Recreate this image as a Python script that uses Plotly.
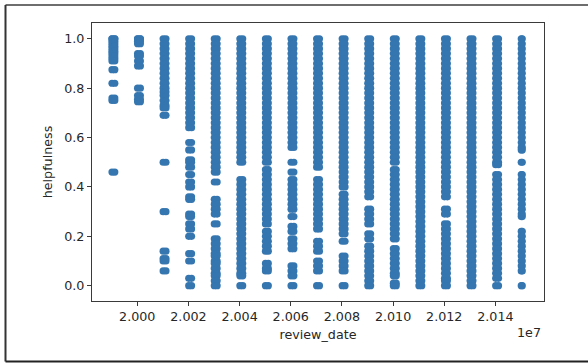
import plotly.graph_objects as go

# ---------------- data ----------------
years = [1999, 2000, 2001, 2002, 2003, 2004, 2005, 2006, 2007,
         2008, 2009, 2010, 2011, 2012, 2013, 2014, 2015]

# month-day parts of review_date used within each year
mmdd_full = [115, 1215]
mmdd_2015 = [110, 500]

h1999 = [1.0, 1.0, 0.99, 0.98, 0.97, 0.96, 0.95, 0.94, 0.93, 0.92, 0.91,
         0.875, 0.82, 0.76, 0.75, 0.46]
h2000 = [1.0, 1.0, 0.99, 0.98, 0.94, 0.93, 0.91, 0.89, 0.80, 0.77, 0.755, 0.745]
h2001 = [1.0, 0.98, 0.96, 0.94, 0.92, 0.90, 0.88, 0.86, 0.84, 0.82, 0.80, 0.785,
         0.77, 0.75, 0.73, 0.72, 0.69, 0.50, 0.30, 0.14, 0.11, 0.10, 0.06]
h2002 = [1.0, 0.98, 0.96, 0.94, 0.92, 0.90, 0.88, 0.86, 0.84, 0.82, 0.80, 0.78,
         0.76, 0.74, 0.72, 0.70, 0.68, 0.66, 0.64, 0.58, 0.55, 0.51, 0.50, 0.48,
         0.45, 0.42, 0.40, 0.36, 0.35, 0.29, 0.28, 0.25, 0.23, 0.20, 0.13, 0.10,
         0.03, 0.0]
h2003 = [1.0, 0.98, 0.96, 0.94, 0.92, 0.90, 0.88, 0.86, 0.84, 0.82, 0.80, 0.78,
         0.76, 0.74, 0.72, 0.70, 0.68, 0.66, 0.64, 0.62, 0.60, 0.58, 0.56, 0.54,
         0.52, 0.50, 0.48, 0.46, 0.42, 0.35, 0.33, 0.31, 0.29, 0.25, 0.19, 0.17,
         0.15, 0.13, 0.12, 0.10, 0.09, 0.07, 0.05, 0.04, 0.02, 0.0]
h2004 = [1.0, 0.98, 0.96, 0.94, 0.92, 0.90, 0.88, 0.86, 0.84, 0.82, 0.80, 0.78,
         0.76, 0.74, 0.72, 0.70, 0.68, 0.66, 0.64, 0.62, 0.60, 0.58, 0.56, 0.54,
         0.52, 0.50, 0.43, 0.41, 0.39, 0.37, 0.35, 0.33, 0.31, 0.29, 0.27, 0.25,
         0.23, 0.21, 0.19, 0.17, 0.15, 0.13, 0.11, 0.09, 0.07, 0.05, 0.04, 0.0]
h2005 = [1.0, 0.98, 0.96, 0.94, 0.92, 0.90, 0.88, 0.86, 0.84, 0.82, 0.80, 0.78,
         0.76, 0.74, 0.72, 0.70, 0.68, 0.66, 0.64, 0.62, 0.60, 0.58, 0.56, 0.54,
         0.52, 0.50, 0.47, 0.45, 0.43, 0.41, 0.39, 0.37, 0.35, 0.33, 0.31, 0.29,
         0.27, 0.25, 0.22, 0.20, 0.18, 0.16, 0.14, 0.09, 0.07, 0.06, 0.0]
h2006 = [1.0, 0.98, 0.96, 0.94, 0.92, 0.90, 0.88, 0.86, 0.84, 0.82, 0.80, 0.78,
         0.76, 0.74, 0.72, 0.70, 0.68, 0.66, 0.64, 0.62, 0.60, 0.58, 0.56, 0.50,
         0.46, 0.43, 0.41, 0.39, 0.37, 0.35, 0.33, 0.31, 0.28, 0.24, 0.22, 0.19,
         0.17, 0.15, 0.08, 0.06, 0.04, 0.0]
h2007 = [1.0, 0.98, 0.96, 0.94, 0.92, 0.90, 0.88, 0.86, 0.84, 0.82, 0.80, 0.78,
         0.76, 0.74, 0.72, 0.70, 0.68, 0.66, 0.64, 0.62, 0.60, 0.58, 0.56, 0.54,
         0.52, 0.50, 0.48, 0.43, 0.41, 0.39, 0.37, 0.35, 0.33, 0.31, 0.29, 0.27,
         0.25, 0.23, 0.18, 0.16, 0.14, 0.10, 0.08, 0.06, 0.0]
h2008 = [1.0, 0.98, 0.96, 0.94, 0.92, 0.90, 0.88, 0.86, 0.84, 0.82, 0.80, 0.78,
         0.76, 0.74, 0.72, 0.70, 0.68, 0.66, 0.64, 0.62, 0.60, 0.58, 0.56, 0.54,
         0.52, 0.50, 0.48, 0.46, 0.44, 0.42, 0.40, 0.37, 0.35, 0.33, 0.31, 0.29,
         0.27, 0.25, 0.23, 0.21, 0.18, 0.12, 0.10, 0.08, 0.06, 0.0]
h2009 = [1.0, 0.98, 0.96, 0.94, 0.92, 0.90, 0.88, 0.86, 0.84, 0.82, 0.80, 0.78,
         0.76, 0.74, 0.72, 0.70, 0.68, 0.66, 0.64, 0.62, 0.60, 0.58, 0.56, 0.54,
         0.52, 0.50, 0.48, 0.46, 0.44, 0.42, 0.40, 0.38, 0.36, 0.31, 0.29, 0.27,
         0.25, 0.21, 0.19, 0.16, 0.14, 0.12, 0.10, 0.08, 0.06, 0.04, 0.02, 0.0]
h2010 = [1.0, 0.98, 0.96, 0.94, 0.92, 0.90, 0.88, 0.86, 0.84, 0.82, 0.80, 0.78,
         0.76, 0.74, 0.72, 0.70, 0.68, 0.66, 0.64, 0.62, 0.60, 0.58, 0.56, 0.54,
         0.52, 0.50, 0.47, 0.45, 0.43, 0.41, 0.39, 0.37, 0.35, 0.33, 0.31, 0.29,
         0.27, 0.25, 0.23, 0.21, 0.19, 0.15, 0.13, 0.11, 0.09, 0.07, 0.05, 0.04,
         0.01, 0.0]
h2011 = [1.0, 0.98, 0.96, 0.94, 0.92, 0.90, 0.88, 0.86, 0.84, 0.82, 0.80, 0.78,
         0.76, 0.74, 0.72, 0.70, 0.68, 0.66, 0.64, 0.62, 0.60, 0.58, 0.56, 0.54,
         0.52, 0.50, 0.48, 0.46, 0.44, 0.42, 0.40, 0.38, 0.36, 0.34, 0.32, 0.30,
         0.28, 0.26, 0.24, 0.22, 0.20, 0.18, 0.16, 0.14, 0.12, 0.10, 0.08, 0.06,
         0.04, 0.02, 0.0]
h2012 = [1.0, 0.98, 0.96, 0.94, 0.92, 0.90, 0.88, 0.86, 0.84, 0.82, 0.80, 0.78,
         0.76, 0.74, 0.72, 0.70, 0.68, 0.66, 0.64, 0.62, 0.60, 0.58, 0.56, 0.54,
         0.52, 0.50, 0.48, 0.46, 0.44, 0.42, 0.40, 0.38, 0.36, 0.31, 0.29, 0.25,
         0.23, 0.21, 0.19, 0.17, 0.15, 0.13, 0.11, 0.09, 0.07, 0.05, 0.03, 0.02,
         0.0]
h2013 = [1.0, 0.98, 0.96, 0.94, 0.92, 0.90, 0.88, 0.86, 0.84, 0.82, 0.80, 0.78,
         0.76, 0.74, 0.72, 0.70, 0.68, 0.66, 0.64, 0.62, 0.60, 0.58, 0.56, 0.54,
         0.52, 0.50, 0.48, 0.46, 0.44, 0.42, 0.40, 0.38, 0.36, 0.34, 0.32, 0.30,
         0.28, 0.26, 0.24, 0.22, 0.20, 0.18, 0.16, 0.14, 0.12, 0.10, 0.08, 0.06,
         0.04, 0.02, 0.0]
h2014 = [1.0, 0.98, 0.96, 0.94, 0.92, 0.90, 0.88, 0.86, 0.84, 0.82, 0.80, 0.78,
         0.76, 0.74, 0.72, 0.70, 0.68, 0.66, 0.64, 0.62, 0.60, 0.58, 0.56, 0.54,
         0.52, 0.50, 0.49, 0.45, 0.43, 0.41, 0.39, 0.37, 0.35, 0.33, 0.31, 0.29,
         0.27, 0.25, 0.23, 0.21, 0.19, 0.17, 0.15, 0.13, 0.11, 0.09, 0.07, 0.05,
         0.03, 0.0]
h2015 = [1.0, 0.98, 0.96, 0.94, 0.92, 0.90, 0.88, 0.86, 0.84, 0.82, 0.80, 0.78,
         0.76, 0.74, 0.72, 0.70, 0.68, 0.66, 0.64, 0.62, 0.60, 0.58, 0.56, 0.55,
         0.50, 0.45, 0.43, 0.41, 0.39, 0.37, 0.35, 0.33, 0.31, 0.29, 0.28, 0.22,
         0.20, 0.18, 0.16, 0.14, 0.12, 0.10, 0.08, 0.06, 0.0]

x_tick_labels = ["2.000", "2.002", "2.004", "2.006", "2.008", "2.010", "2.012", "2.014"]
y_tick_values = [0.0, 0.2, 0.4, 0.6, 0.8, 1.0]

# ---------------- build points ----------------
helpfulness_by_year = [h1999, h2000, h2001, h2002, h2003, h2004, h2005, h2006,
                       h2007, h2008, h2009, h2010, h2011, h2012, h2013, h2014, h2015]

xs, ys = [], []
for yr, vals in zip(years, helpfulness_by_year):
    mmdds = mmdd_2015 if yr == 2015 else mmdd_full
    for md in mmdds:
        for v in vals:
            xs.append(yr * 10000 + md)
            ys.append(v)

x_tick_vals = [round(float(t) * 1e7) for t in x_tick_labels]

FONT = "DejaVu Sans"
TXT = "#262626"
MARK = "#3576b0"

fig = go.Figure()
fig.add_trace(go.Scatter(
    x=xs, y=ys, mode="markers",
    marker=dict(color=MARK, size=7.2, line=dict(width=0)),
    showlegend=False, hoverinfo="skip",
))

# plot-area pixel geometry
L, R, T, B = 92, 44, 23, 62
W, H = 588, 363
PW, PH = W - L - R, H - T - B

def px_x(px):
    return (px - L) / PW

def px_y(py):
    return (H - B - py) / PH

fx0, fx1 = px_x(5.5), px_x(588)
fy_top, fy_bot = px_y(5), px_y(361.5)

fig.update_layout(
    width=W, height=H,
    margin=dict(l=L, r=R, t=T, b=B, pad=0),
    paper_bgcolor="white", plot_bgcolor="white",
    font=dict(family=FONT, size=12.7, color=TXT),
    xaxis=dict(
        range=[19982300, 20159000],
        tickvals=x_tick_vals, ticktext=x_tick_labels,
        showgrid=False, zeroline=False,
        showline=True, mirror=True, linecolor="#3a3a3a", linewidth=1,
        ticks="outside", ticklen=4, tickwidth=1, tickcolor="#3a3a3a",
        tickfont=dict(family=FONT, size=12.7, color=TXT),
        title=dict(text="review_date", standoff=6,
                   font=dict(family=FONT, size=12.7, color=TXT)),
        automargin=False,
    ),
    yaxis=dict(
        range=[-0.062, 1.064],
        tickvals=y_tick_values, tickformat=".1f",
        showgrid=False, zeroline=False,
        showline=True, mirror=True, linecolor="#3a3a3a", linewidth=1,
        ticks="outside", ticklen=4, tickwidth=1, tickcolor="#3a3a3a",
        tickfont=dict(family=FONT, size=12.7, color=TXT),
        title=dict(text="helpfulness", standoff=8,
                   font=dict(family=FONT, size=12.7, color=TXT)),
        automargin=False,
    ),
    annotations=[dict(
        text="1e7", xref="paper", yref="paper",
        x=px_x(529), y=px_y(332), xanchor="center", yanchor="middle",
        showarrow=False, font=dict(family=FONT, size=12.7, color=TXT),
    )],
    shapes=[
        dict(type="line", xref="paper", yref="paper",
             x0=fx0, x1=fx1, y0=fy_top, y1=fy_top,
             line=dict(color="#6e6e6e", width=2)),
        dict(type="line", xref="paper", yref="paper",
             x0=fx0, x1=fx0, y0=fy_top, y1=fy_bot,
             line=dict(color="#333333", width=2)),
        dict(type="line", xref="paper", yref="paper",
             x0=fx0, x1=fx1, y0=fy_bot, y1=fy_bot,
             line=dict(color="#222222", width=2)),
    ],
)

fig.write_html(
    "out.html",
    config={"displayModeBar": False},
    post_script=(
        "document.documentElement.style.margin='0px';"
        "document.documentElement.style.overflow='hidden';"
        "document.body.style.margin='0px';"
        "document.body.style.overflow='hidden';"
    ),
)
